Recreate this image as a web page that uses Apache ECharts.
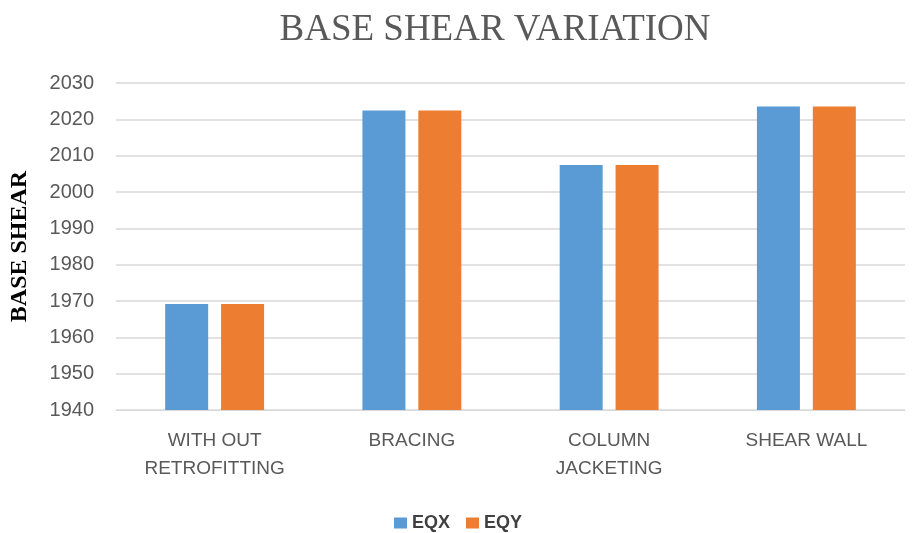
<!DOCTYPE html>
<html>
<head>
<meta charset="utf-8">
<script src="https://cdn.jsdelivr.net/npm/echarts@6/dist/echarts.min.js"></script>
<style>
  html, body { margin: 0; padding: 0; background: #fff; }
  #chart { width: 916px; height: 533px; }
</style>
</head>
<body>
<div id="chart"></div>
<script>
// Retrofitting schemes and the base shear each one gives
const categories = ['WITH OUT\nRETROFITTING', 'BRACING', 'COLUMN\nJACKETING', 'SHEAR WALL'];
const eqx = [1969.2, 2022.4, 2007.4, 2023.5];
const eqy = [1969.2, 2022.4, 2007.4, 2023.5];
const seriesNames = ['EQX', 'EQY'];
const yMin = 1940;
const yMax = 2030;
const yStep = 10;

const labelFont = '"Liberation Sans", Arial, sans-serif';
const serifFont = '"Liberation Serif", "Times New Roman", serif';
const textGray = '#595959';

const chart = echarts.init(document.getElementById('chart'), null, { renderer: 'canvas' });

chart.setOption({
  backgroundColor: '#ffffff',
  animation: false,
  title: {
    text: 'BASE SHEAR VARIATION',
    left: 490,
    top: 7,
    textAlign: 'center',
    textStyle: {
      fontFamily: serifFont,
      fontSize: 37,
      fontWeight: 'normal',
      color: textGray
    }
  },
  legend: {
    data: seriesNames,
    left: 'center',
    bottom: -4,
    itemWidth: 13,
    itemHeight: 11,
    itemGap: 16,
    icon: 'rect',
    textStyle: {
      fontFamily: labelFont,
      fontSize: 18,
      fontWeight: 'bold',
      color: '#404040'
    }
  },
  grid: {
    left: 115,
    right: 11,
    top: 83,
    bottom: 123,
    containLabel: false
  },
  xAxis: {
    type: 'category',
    data: categories,
    axisLine: { show: true, lineStyle: { color: '#d9d9d9', width: 1 } },
    axisTick: { show: false },
    axisLabel: {
      fontFamily: labelFont,
      fontSize: 19,
      lineHeight: 28,
      color: textGray,
      margin: 17,
      interval: 0
    }
  },
  yAxis: {
    type: 'value',
    min: yMin,
    max: yMax,
    interval: yStep,
    name: 'BASE SHEAR',
    nameLocation: 'middle',
    nameRotate: 90,
    nameGap: 84,
    nameTextStyle: {
      fontFamily: serifFont,
      fontSize: 24,
      fontWeight: 'bold',
      color: '#000000'
    },
    axisLine: { show: false },
    axisTick: { show: false },
    splitLine: { lineStyle: { color: '#d9d9d9', width: 1.5 } },
    axisLabel: {
      fontFamily: labelFont,
      fontSize: 20,
      color: textGray,
      margin: 22,
      formatter: function (v) { return String(v); }
    }
  },
  series: [
    {
      name: seriesNames[0],
      type: 'bar',
      data: eqx,
      barWidth: 43,
      barGap: '30%',
      itemStyle: { color: '#5b9bd5' }
    },
    {
      name: seriesNames[1],
      type: 'bar',
      data: eqy,
      barWidth: 43,
      barGap: '30%',
      itemStyle: { color: '#ed7d31' }
    }
  ]
});
</script>
</body>
</html>
